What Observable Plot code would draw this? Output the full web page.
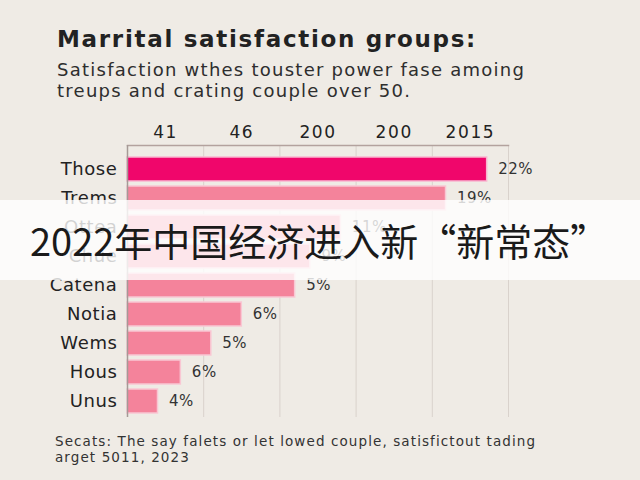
<!DOCTYPE html>
<html>
<head>
<meta charset="utf-8">
<script src="https://cdn.jsdelivr.net/npm/d3@7"></script>
<script src="https://cdn.jsdelivr.net/npm/@observablehq/plot@0.6"></script>
<style>
  html, body { margin: 0; padding: 0; background: #efebe5; }
  #page { position: relative; width: 640px; height: 480px; overflow: hidden; background: #efebe5; font-family: "DejaVu Sans", sans-serif; }
  #title { position: absolute; left: 57px; top: 26px; font-size: 23px; font-weight: bold; letter-spacing: 1.7px; color: #222; white-space: nowrap; }
  #subtitle { position: absolute; left: 57px; top: 59px; font-size: 18px; letter-spacing: 1.25px; line-height: 21px; color: #2e2e2e; white-space: nowrap; }
  #chart { position: absolute; left: 0; top: 110px; }
  #caption { position: absolute; left: 55px; top: 433px; font-size: 13.5px; letter-spacing: 1.1px; line-height: 16px; color: #333; white-space: nowrap; }
  #banner { position: absolute; left: 0; top: 200px; width: 640px; height: 80px; background: rgba(255,255,255,0.8); }
  #banner span { position: absolute; left: 30px; top: 17px; font-family: "Noto Sans CJK SC", sans-serif; font-size: 38px; line-height: 46px; color: #1a1a1a; white-space: nowrap; }
  #chart g[aria-label="y-axis tick label"] text { letter-spacing: 0.6px; }
  #chart g[aria-label="x-axis tick label"] text { letter-spacing: 1.6px; }
  #chart g[aria-label="text"] text { letter-spacing: 0.5px; }
</style>
</head>
<body>
<div id="page">
  <div id="title">Marrital satisfaction groups:</div>
  <div id="subtitle">Satisfaction wthes touster power fase amoing<br>treups and crating couple over 50.</div>
  <div id="chart"></div>
  <div id="caption">Secats: The say falets or let lowed couple, satisfictout tading<br>arget 5011, 2023</div>
  <div id="banner"><span>2022年中国经济进入新“新常态”</span></div>
</div>
<script>
const categories = ["Those", "Trems", "Ottea", "Chue", "Catena", "Notia", "Wems", "Hous", "Unus"];
const barValues = [23.6, 20.9, 14.0, 12.0, 11.0, 7.5, 5.5, 3.5, 2.0];
const valueLabels = ["22%", "19%", "11%", "9%", "5%", "6%", "5%", "6%", "4%"];
const highlight = ["Those"];
const tickPositions = [2.5, 7.5, 12.5, 17.5, 22.5];
const tickLabels = ["41", "46", "200", "200", "2015"];
const gridPositions = [5, 10, 15, 20, 25];

const rows = categories.map((c, i) => ({ cat: c, value: barValues[i], label: valueLabels[i] }));

const chart = Plot.plot({
  width: 640,
  height: 320,
  marginTop: 35,
  marginBottom: 13,
  marginLeft: 127,
  marginRight: 132,
  style: { background: "transparent", fontFamily: "'DejaVu Sans', sans-serif" },
  x: { domain: [0, 25], axis: null },
  y: { domain: categories, range: [46.5, 304], paddingInner: 0.16, paddingOuter: 0, axis: null },
  marks: [
    Plot.gridX(gridPositions, { stroke: "#d9d2cc", strokeOpacity: 1, strokeWidth: 1 }),
    Plot.frame({ anchor: "top", stroke: "#b3a29e", strokeWidth: 1.5 }),
    Plot.barX(rows, {
      x: "value", y: "cat",
      fill: d => highlight.includes(d.cat) ? "#f0066b" : "#f4839b",
      stroke: d => highlight.includes(d.cat) ? "#f9b6cf" : "#f9c7d3",
      strokeWidth: 1.5
    }),
    Plot.ruleX([0], { stroke: "#a59a96", strokeWidth: 1.5 }),
    Plot.text(rows, { x: "value", y: "cat", text: "label", textAnchor: "start", dx: 11, fontSize: 15, fill: "#333" }),
    Plot.axisY({ tickSize: 0, tickPadding: 10, fontSize: 18, color: "#222", label: null }),
    Plot.axisX(tickPositions, { anchor: "top", tickSize: 0, tickPadding: 8, fontSize: 17, color: "#222", label: null, tickFormat: (d) => tickLabels[tickPositions.indexOf(d)] })
  ]
});
document.getElementById("chart").appendChild(chart);
</script>
</body>
</html>
